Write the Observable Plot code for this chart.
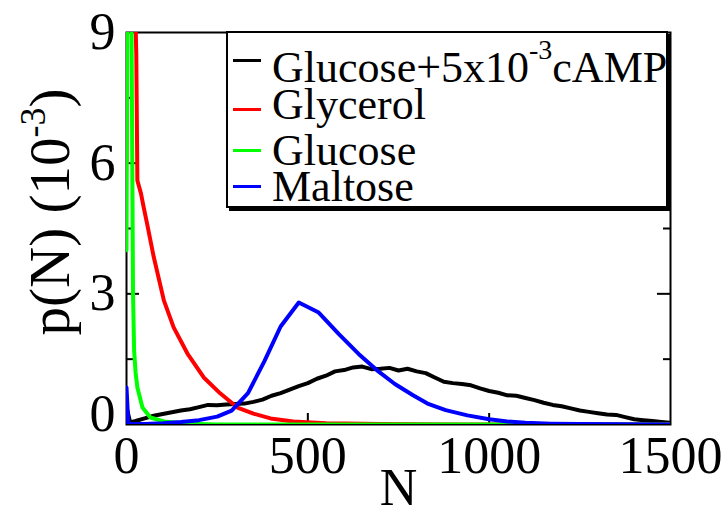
<!DOCTYPE html>
<html><head><meta charset="utf-8">
<script src="https://cdn.jsdelivr.net/npm/d3@7"></script>
<script src="https://cdn.jsdelivr.net/npm/@observablehq/plot@0.6"></script>
<style>
html,body{margin:0;padding:0;background:#fff;}
#wrap{position:relative;width:726px;height:519px;overflow:hidden;}
.legend{position:absolute;left:226px;top:31px;width:438px;height:173px;border:2px solid #000;box-shadow:3px 3px 0 #000;background:#fff;font-family:'Liberation Serif','Times New Roman',Times,'DejaVu Serif',serif;font-size:44px;color:#000;}
.legend .row{position:absolute;left:44px;white-space:nowrap;line-height:44px;}
.legend .sample{position:absolute;left:5px;width:28px;height:3px;}
.legend sup{font-size:28px;vertical-align:baseline;position:relative;top:-23px;}
svg text{font-family:'Liberation Serif','Times New Roman',Times,'DejaVu Serif',serif;}
</style>
</head><body>
<div id="wrap"></div>
<script>
// ---- data (N, p(N) in units of 1e-3) ----
const camp = [
  [0,0.40],[10,0.05],[25,0.08],[50,0.14],[75,0.20],[100,0.24],[125,0.28],[150,0.32],[175,0.35],[200,0.40],
  [225,0.45],[250,0.44],[275,0.46],[300,0.47],[325,0.48],[350,0.52],[375,0.57],[400,0.66],[425,0.72],[450,0.80],
  [475,0.88],[500,0.95],[525,1.05],[550,1.12],[575,1.22],[600,1.25],[625,1.31],[650,1.33],[675,1.27],[700,1.28],
  [725,1.30],[750,1.24],[775,1.28],[800,1.22],[825,1.18],[850,1.08],[875,0.98],[900,0.95],[925,0.93],[950,0.90],
  [975,0.83],[1000,0.77],[1025,0.73],[1050,0.67],[1075,0.66],[1100,0.61],[1125,0.56],[1150,0.50],[1175,0.45],[1200,0.42],
  [1225,0.37],[1250,0.32],[1275,0.29],[1300,0.26],[1325,0.23],[1350,0.22],[1375,0.17],[1400,0.12],[1425,0.10],[1450,0.08],
  [1475,0.06],[1500,0.04]
];
const glycerol = [
  [0,6.0],[4,14],[20,11],[27,8.5],[30,5.6],[40,5.3],[47,5.0],[57,4.6],[75,3.85],[103,2.85],[130,2.23],[168,1.63],
  [213,1.08],[259,0.71],[306,0.39],[350,0.25],[397,0.14],[460,0.07],[550,0.03],[700,0.01],[900,0],[1500,0]
];
const glucose = [
  [0,4],[6,20],[12,12],[16,6],[18,3.0],[21,1.7],[25,1.2],[30,0.85],[44,0.39],[66,0.16],[103,0.07],[168,0.02],
  [250,0],[1500,0]
];
const maltose = [
  [0,0.85],[5,0.02],[50,0.01],[100,0.03],[150,0.06],[200,0.10],[250,0.18],[290,0.32],[335,0.72],[380,1.45],
  [425,2.25],[475,2.8],[530,2.57],[585,2.08],[640,1.62],[690,1.25],[740,0.93],[790,0.67],[830,0.48],[880,0.33],
  [940,0.21],[1000,0.12],[1050,0.07],[1100,0.04],[1170,0.02],[1250,0.01],[1500,0]
];
const seriesNames = ["Glucose+5x10-3cAMP","Glycerol","Glucose","Maltose"];
const seriesColors = ["#000000","#ff0000","#00ff00","#0000ff"];
const seriesData = [camp, glycerol, glucose, maltose];
const xTicks = [0,500,1000,1500];
const yTicks = [0,3,6,9];
const yMinor = [1.5,4.5,7.5];
const xLabel = "N";

const font = "'Liberation Serif','Times New Roman',Times,'DejaVu Serif',serif";

const lineMarks = seriesData.map((d,i) => Plot.line(d, {x: d=>d[0], y: d=>d[1], stroke: seriesColors[i], strokeWidth: 4, clip: true}));

const chart = Plot.plot({
  width: 726, height: 519,
  marginLeft: 126, marginRight: 56, marginTop: 32, marginBottom: 95,
  x: {domain: [0,1500]},
  y: {domain: [0,9]},
  style: {fontFamily: font, fontSize: "52px", color: "#000", background: "#fff", overflow: "visible"},
  marks: [
    Plot.frame({stroke: "#000", strokeWidth: 2}),
    Plot.tickX(xTicks.slice(1,-1), {x: d=>d, stroke: "#000", strokeWidth: 2, insetTop: 381}),
    Plot.tickY(yTicks.slice(1,-1), {y: d=>d, stroke: "#000", strokeWidth: 2, insetRight: 531}),
    Plot.tickY(yMinor, {y: d=>d, stroke: "#000", strokeWidth: 2, insetRight: 537}),
    Plot.tickY(yTicks.slice(1,-1), {y: d=>d, stroke: "#000", strokeWidth: 2, insetLeft: 531}),
    Plot.tickY(yMinor, {y: d=>d, stroke: "#000", strokeWidth: 2, insetLeft: 537}),
    ...lineMarks,
    Plot.axisX({ticks: xTicks, tickSize: 0, tickPadding: 12, tickFormat: d=>String(d), label: null}),
    Plot.axisY({ticks: yTicks.slice(1), tickSize: 0, tickPadding: 11, tickFormat: d=>String(d), label: null}),
    Plot.axisY({ticks: [0], tickSize: 0, tickPadding: 11, dy: -10, tickFormat: d=>String(d), label: null}),
    Plot.text([xLabel], {text: d=>d, frameAnchor: "bottom", dy: 80, fontSize: 52})
  ]
});
const wrap = document.getElementById("wrap");
wrap.appendChild(chart);

// y-axis label with superscript
const svg = d3.select(chart);
const yl = svg.append("text")
  .attr("transform", "translate(69,212) rotate(-90)")
  .attr("text-anchor", "middle")
  .style("font-family", font)
  .attr("font-size", 57)
  .attr("fill", "#000");
yl.append("tspan").text("p(N) (10");
yl.append("tspan").attr("font-size", 36).attr("dy", -24).text("-3");
yl.append("tspan").attr("dy", 24).text(")");

// legend
const legend = document.createElement("div");
legend.className = "legend";
const rowBaselines = [50, 87, 133, 169];
const sampleY = [27, 76, 117, 153];
seriesNames.forEach((name, i) => {
  const s = document.createElement("div");
  s.className = "sample";
  s.style.top = (sampleY[i] - 1.5) + "px";
  s.style.background = seriesColors[i];
  legend.appendChild(s);
  const r = document.createElement("div");
  r.className = "row";
  r.style.top = (rowBaselines[i] - 37) + "px";
  if (name.includes("10-3")) {
    const [a, b] = name.split("10-3");
    r.innerHTML = a + "10<sup>-3</sup>" + b;
  } else r.textContent = name;
  legend.appendChild(r);
});
wrap.appendChild(legend);
</script>
</body></html>
